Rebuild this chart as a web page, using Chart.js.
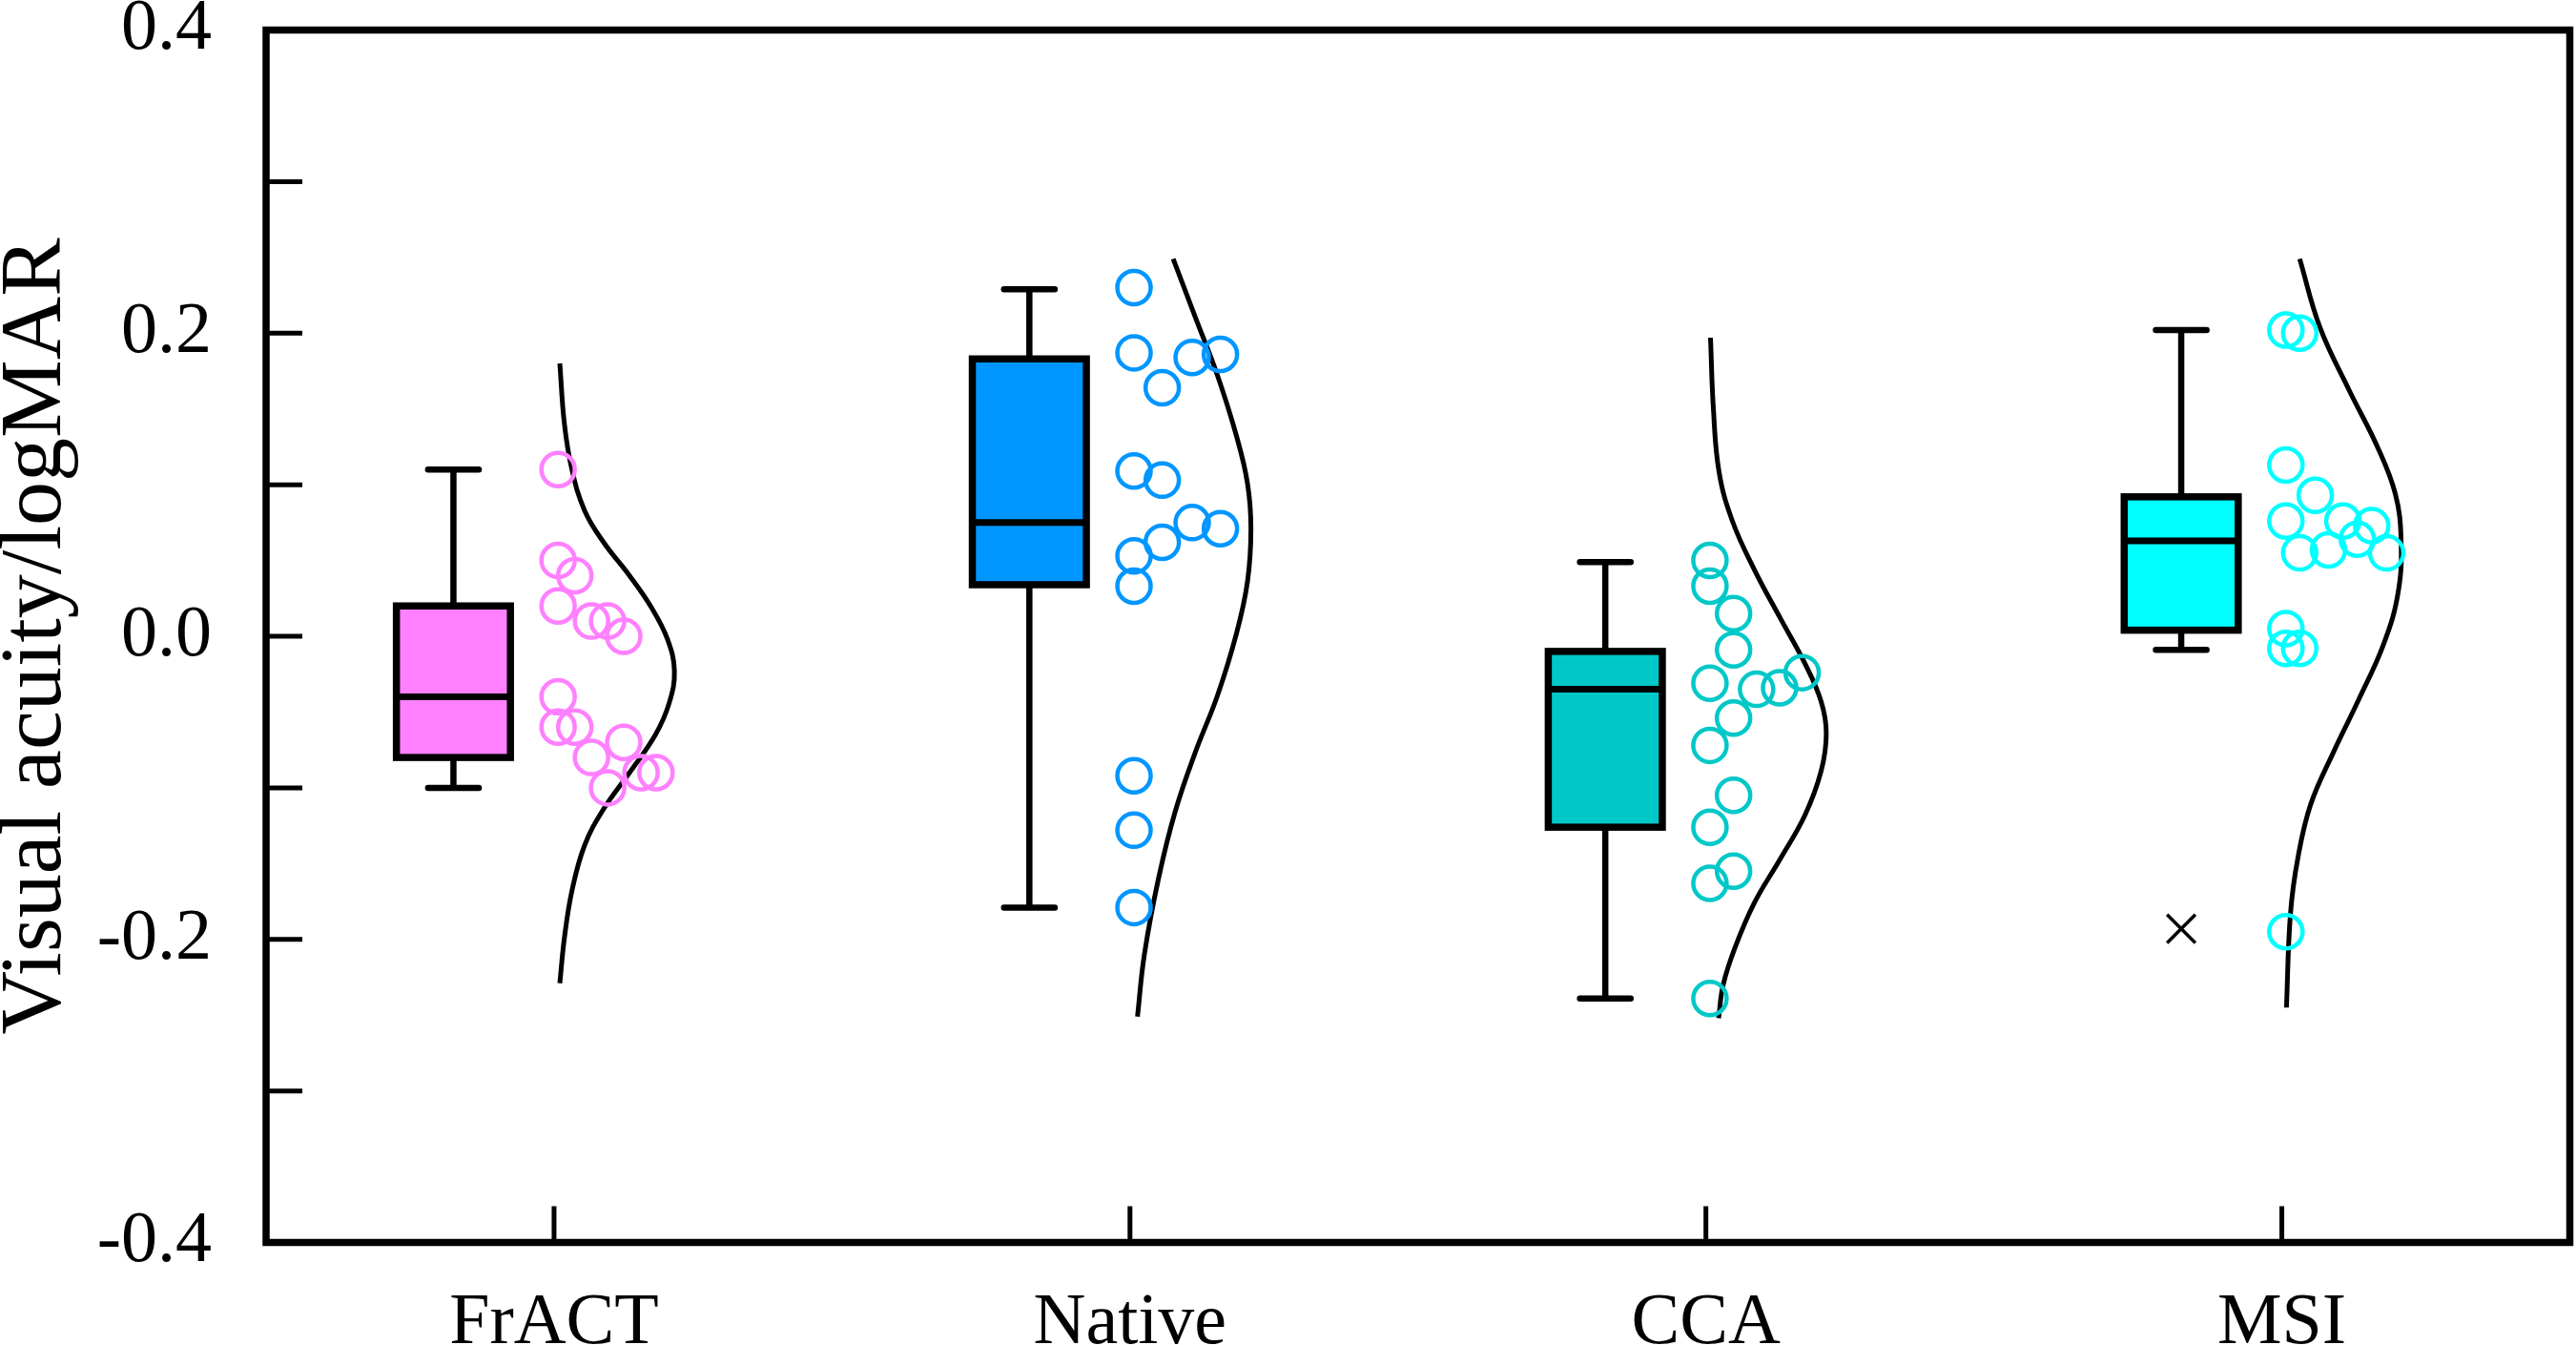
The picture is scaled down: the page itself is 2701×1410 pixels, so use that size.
<!DOCTYPE html>
<html><head><meta charset="utf-8">
<script src="https://cdn.jsdelivr.net/npm/chart.js@4.4.1/dist/chart.umd.min.js"></script>
<style>html,body{margin:0;padding:0;background:#fff}#wrap{width:2701px;height:1410px;position:relative}</style>
</head><body><div id="wrap"><canvas id="c"></canvas></div>
<script>
// ---------------- data ----------------
const categories = ['FrACT', 'Native', 'CCA', 'MSI'];
const groupColors = ['#FF80FF', '#0096FF', '#00C8C8', '#00FFFF'];

const yTickValues = [-0.4, -0.3, -0.2, -0.1, 0.0, 0.1, 0.2, 0.3, 0.4];
const yTickLabels = ['-0.4', '', '-0.2', '', '0.0', '', '0.2', '', '0.4'];

// box statistics: [lower whisker, Q1, median, Q3, upper whisker]
const fractBox  = [-0.10, -0.08, -0.04, 0.02, 0.11];
const nativeBox = [-0.179, 0.034, 0.075, 0.183, 0.229];
const ccaBox    = [-0.239, -0.126, -0.035, -0.010, 0.049];
const msiBox    = [-0.009, 0.004, 0.063, 0.092, 0.202];
const msiOutliers = [-0.193];

// individual observations
const fractValues  = [0.11, 0.05, 0.04, 0.02, 0.01, 0.01, 0.00, -0.04, -0.06, -0.06, -0.08, -0.07, -0.10, -0.09, -0.09];
const nativeValues = [0.23, 0.187, 0.164, 0.184, 0.186, 0.109, 0.103, 0.075, 0.071, 0.062, 0.053, 0.033, -0.092, -0.128, -0.179];
const ccaValues    = [0.05, 0.033, 0.015, -0.009, -0.031, -0.035, -0.034, -0.024, -0.054, -0.072, -0.105, -0.126, -0.163, -0.155, -0.239];
const msiValues    = [0.202, 0.20, 0.113, 0.093, 0.076, 0.076, 0.073, 0.055, 0.057, 0.064, 0.055, 0.005, -0.008, -0.008, -0.195];

// horizontal spread of the observations (category units to the right of the category)
const fractJitter  = [0.007, 0.007, 0.036, 0.007, 0.065, 0.093, 0.121, 0.007, 0.007, 0.036, 0.065, 0.121, 0.093, 0.151, 0.177];
const nativeJitter = [0.007, 0.007, 0.056, 0.108, 0.157, 0.007, 0.056, 0.108, 0.157, 0.056, 0.007, 0.007, 0.007, 0.007, 0.007];
const ccaJitter    = [0.007, 0.007, 0.048, 0.048, 0.007, 0.088, 0.128, 0.167, 0.048, 0.007, 0.048, 0.007, 0.007, 0.048, 0.007];
const msiJitter    = [0.007, 0.031, 0.007, 0.058, 0.007, 0.106, 0.156, 0.031, 0.081, 0.131, 0.182, 0.007, 0.007, 0.031, 0.007];

// distribution curves: y value and width (category units)
const fractCurveY  = [0.180, 0.140, 0.110, 0.083, 0.062, 0.040, 0.019, -0.002, -0.023, -0.044, -0.065, -0.090, -0.114, -0.138, -0.168, -0.199, -0.229];
const fractCurveW  = [0.010, 0.018, 0.031, 0.053, 0.086, 0.131, 0.169, 0.197, 0.209, 0.200, 0.176, 0.131, 0.086, 0.053, 0.031, 0.018, 0.010];
const nativeCurveY = [0.249, 0.211, 0.172, 0.132, 0.101, 0.071, 0.036, 0.002, -0.039, -0.077, -0.115, -0.159, -0.210, -0.251];
const nativeCurveW = [0.075, 0.113, 0.152, 0.185, 0.204, 0.210, 0.204, 0.185, 0.152, 0.113, 0.079, 0.050, 0.025, 0.013];
const ccaCurveY    = [0.197, 0.150, 0.108, 0.076, 0.044, 0.012, -0.018, -0.043, -0.064, -0.089, -0.118, -0.147, -0.176, -0.205, -0.230, -0.252];
const ccaCurveW    = [0.008, 0.013, 0.023, 0.046, 0.084, 0.129, 0.172, 0.200, 0.209, 0.200, 0.172, 0.129, 0.084, 0.051, 0.030, 0.022];
const msiCurveY    = [0.249, 0.204, 0.163, 0.125, 0.094, 0.064, 0.029, -0.005, -0.043, -0.077, -0.111, -0.146, -0.183, -0.245];
const msiCurveW    = [0.031, 0.066, 0.116, 0.166, 0.197, 0.207, 0.202, 0.177, 0.132, 0.089, 0.050, 0.028, 0.015, 0.008];

// ---------------- build ----------------
const boxes   = [fractBox, nativeBox, ccaBox, msiBox];
const values  = [fractValues, nativeValues, ccaValues, msiValues];
const jitters = [fractJitter, nativeJitter, ccaJitter, msiJitter];
const curvesY = [fractCurveY, nativeCurveY, ccaCurveY, msiCurveY];
const curvesW = [fractCurveW, nativeCurveW, ccaCurveW, msiCurveW];

const BOX_OFFSET = -0.1747, BOX_WIDTH = 0.198, CAP_WIDTH = 0.088;
const FONT = "'Liberation Serif', 'Times New Roman', serif";

const datasets = [];
categories.forEach((c, i) => {
  datasets.push({
    label: c + ' distribution',
    data: curvesY[i].map((v, k) => ({x: i + 1 + curvesW[i][k], y: v})),
    showLine: true, tension: 0.4, borderColor: '#000', borderWidth: 5,
    pointRadius: 0, fill: false, order: 2
  });
});
categories.forEach((c, i) => {
  datasets.push({
    label: c,
    data: values[i].map((v, k) => ({x: i + 1 + jitters[i][k], y: v})),
    pointStyle: 'circle', pointRadius: 17.5, pointBorderWidth: 4.5,
    pointBackgroundColor: 'rgba(0,0,0,0)', pointBorderColor: groupColors[i],
    showLine: false, order: 1
  });
});
datasets.push({
  label: 'MSI outlier',
  data: msiOutliers.map(v => ({x: 4 + BOX_OFFSET, y: v})),
  pointStyle: 'crossRot', pointRadius: 21, pointBorderWidth: 3.5,
  pointBorderColor: '#000', showLine: false, order: 0
});

const boxPlugin = {
  id: 'boxes',
  beforeDatasetsDraw(chart) {
    const {ctx, scales: {x, y}} = chart;
    boxes.forEach((b, i) => {
      const cx = x.getPixelForValue(i + 1 + BOX_OFFSET);
      const hw = (x.getPixelForValue(BOX_WIDTH) - x.getPixelForValue(0)) / 2;
      const cw = (x.getPixelForValue(CAP_WIDTH) - x.getPixelForValue(0)) / 2;
      const [lo, q1, med, q3, hi] = b.map(v => y.getPixelForValue(v));
      ctx.save();
      ctx.strokeStyle = '#000';
      ctx.lineWidth = 6.5;
      ctx.lineCap = 'butt';
      ctx.beginPath();
      ctx.moveTo(cx, q3); ctx.lineTo(cx, hi);
      ctx.moveTo(cx, q1); ctx.lineTo(cx, lo);
      ctx.stroke();
      ctx.lineCap = 'round';
      ctx.beginPath();
      ctx.moveTo(cx - cw, hi); ctx.lineTo(cx + cw, hi);
      ctx.moveTo(cx - cw, lo); ctx.lineTo(cx + cw, lo);
      ctx.stroke();
      ctx.fillStyle = groupColors[i];
      ctx.fillRect(cx - hw, q3, 2 * hw, q1 - q3);
      ctx.lineWidth = 7.5;
      ctx.lineJoin = 'miter';
      ctx.strokeRect(cx - hw, q3, 2 * hw, q1 - q3);
      ctx.lineCap = 'butt';
      ctx.lineWidth = 7;
      ctx.beginPath();
      ctx.moveTo(cx - hw, med); ctx.lineTo(cx + hw, med);
      ctx.stroke();
      ctx.restore();
    });
  }
};

const framePlugin = {
  id: 'frame',
  afterDraw(chart) {
    const {ctx, chartArea: a, scales: {x, y}} = chart;
    ctx.save();
    ctx.strokeStyle = '#000';
    ctx.lineWidth = 5;
    ctx.beginPath();
    y.ticks.forEach(t => {
      const py = y.getPixelForValue(t.value);
      ctx.moveTo(a.left, py); ctx.lineTo(a.left + 38, py);
    });
    x.ticks.forEach(t => {
      const px = x.getPixelForValue(t.value);
      ctx.moveTo(px, a.bottom); ctx.lineTo(px, a.bottom - 38);
    });
    ctx.stroke();
    ctx.lineWidth = 7.5;
    ctx.lineJoin = 'miter';
    ctx.strokeRect(a.left, a.top, a.right - a.left, a.bottom - a.top);
    ctx.restore();
  }
};

function zeroPad(s) { s.paddingTop = 0; s.paddingBottom = 0; s.paddingLeft = 0; s.paddingRight = 0; }

new Chart(document.getElementById('c'), {
  type: 'scatter',
  data: {datasets},
  plugins: [boxPlugin, framePlugin],
  options: {
    responsive: true, maintainAspectRatio: false, animation: false, devicePixelRatio: 1,
    layout: {autoPadding: false, padding: {top: 31.5, right: 6.5, left: 0, bottom: 0}},
    plugins: {legend: {display: false}, tooltip: {enabled: false}},
    scales: {
      x: {
        type: 'linear', min: 0.5, max: 4.5,
        afterFit(s) { s.height = 107.5; zeroPad(s); },
        afterBuildTicks(s) { s.ticks = categories.map((c, i) => ({value: i + 1})); },
        grid: {display: false}, border: {display: false},
        ticks: {
          autoSkip: false, maxRotation: 0, padding: 32, color: '#000',
          font: {family: FONT, size: 76},
          callback: (v) => categories[Math.round(v) - 1] || ''
        }
      },
      y: {
        type: 'linear', min: -0.4, max: 0.4,
        afterFit(s) { s.width = 279; zeroPad(s); },
        afterBuildTicks(s) { s.ticks = yTickValues.map(v => ({value: v})); },
        grid: {display: false}, border: {display: false},
        ticks: {
          autoSkip: false, padding: 49, color: '#000',
          font: {family: FONT, size: 76},
          callback: (v) => { const k = yTickValues.findIndex(t => Math.abs(t - v) < 1e-9); return k >= 0 ? yTickLabels[k] : ''; }
        },
        title: {
          display: true, text: 'Visual acuity/logMAR', color: '#000', padding: 0,
          font: {family: FONT, size: 92, lineHeight: 0.85}
        }
      }
    }
  }
});
</script></body></html>
